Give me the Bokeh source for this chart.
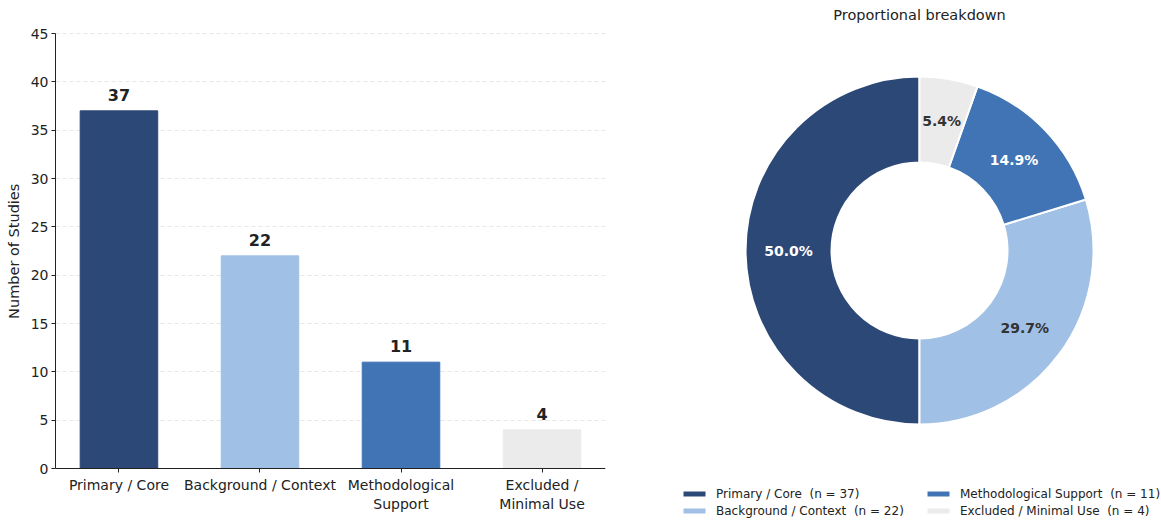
import math
from bokeh.plotting import figure
from bokeh.layouts import row
from bokeh.models import (ColumnDataSource, Range1d, FixedTicker, Legend, LegendItem)
from bokeh.core.properties import value
from bokeh.embed import file_html
from bokeh.resources import INLINE

# ---- data ----
categories = ["Primary / Core", "Background / Context", "Methodological Support", "Excluded / Minimal Use"]
tick_labels = ["Primary / Core", "Background / Context", "Methodological\nSupport", "Excluded /\nMinimal Use"]
counts = [37, 22, 11, 4]
colors = ["#2c4877", "#a0c0e5", "#4174b4", "#ebebeb"]
pct_text_colors = ["#ffffff", "#333333", "#ffffff", "#333333"]
y_ticks = [0, 5, 10, 15, 20, 25, 30, 35, 40, 45]

FONT = "DejaVu Sans"
H = 520

# ---- bar chart ----
# frame covers full height; 45 sits at page y 33 and 0 at page y 468
scale = (468 - 33) / 45.0
y_lo = -(H - 468) / scale
y_hi = 45 + 33 / scale

xs = list(range(len(categories)))
bar_src = ColumnDataSource(dict(x=xs, top=counts, color=colors,
                                label=[str(c) for c in counts]))

p1 = figure(width=640, height=H, output_backend="svg", toolbar_location=None,
            x_range=Range1d(-0.45, 3.45), y_range=Range1d(y_lo, y_hi),
            min_border_left=55, min_border_right=35, min_border_top=0, min_border_bottom=0)
p1.outline_line_color = None
p1.vbar(x="x", top="top", bottom=0, width=0.55, color="color", source=bar_src)
p1.text(x="x", y="top", text="label", source=bar_src, text_align="center",
        text_baseline="bottom", y_offset=-10, text_font=value(FONT),
        text_font_size="16px", text_font_style="bold", text_color="#222222")

p1.xaxis.ticker = FixedTicker(ticks=xs)
p1.xaxis.major_label_overrides = {i: t for i, t in enumerate(tick_labels)}
p1.xaxis.fixed_location = 0
p1.yaxis.ticker = FixedTicker(ticks=y_ticks)
p1.yaxis.bounds = (0, 45)
# leading no-break spaces nudge the centred label up to the middle of the 0-45 span
p1.yaxis.axis_label = "\u00a0\u00a0\u00a0\u00a0Number of Studies"
for ax in (p1.xaxis, p1.yaxis):
    ax.major_label_text_font = FONT
    ax.major_label_text_font_size = "14px"
    ax.major_label_text_color = "#222222"
    ax.axis_label_text_font = FONT
    ax.axis_label_text_font_size = "14.5px"
    ax.axis_label_text_font_style = "normal"
    ax.axis_label_text_color = "#222222"
    ax.major_tick_in = 0
    ax.major_tick_out = 4
    ax.minor_tick_line_color = None
    ax.axis_line_color = "#222222"
    ax.major_tick_line_color = "#222222"
p1.xaxis.major_label_standoff = 4
p1.yaxis.major_label_standoff = 3
p1.yaxis.axis_label_standoff = 6
p1.xgrid.grid_line_color = None
p1.ygrid.grid_line_color = "#dddddd"
p1.ygrid.grid_line_dash = "4 3"
p1.ygrid.grid_line_alpha = 0.7

# ---- donut chart ----
total = sum(counts)
fracs = [c / total for c in counts]
starts, ends, mids = [], [], []
acc = 0.0
for f in fracs:
    s = math.pi / 2 + 2 * math.pi * acc
    e = math.pi / 2 + 2 * math.pi * (acc + f)
    starts.append(s)
    ends.append(e)
    mids.append((s + e) / 2)
    acc += f

cx, cy = 919, 272
r_out, r_in = 174, 88
r_lab = (r_out + r_in) / 2

pie_src = ColumnDataSource(dict(start=starts, end=ends, color=colors))
lab_src = ColumnDataSource(dict(
    x=[cx + r_lab * math.cos(m) for m in mids],
    y=[cy + r_lab * math.sin(m) for m in mids],
    text=["%.1f%%" % (100 * f) for f in fracs],
    color=pct_text_colors))

# frame spans page pixels x 640..1160, y 0..520 ; data y = 522 - page y
p2 = figure(width=520, height=H, output_backend="svg", toolbar_location=None,
            x_range=Range1d(640, 1160), y_range=Range1d(522 - H, 522),
            min_border=0, x_axis_location=None, y_axis_location=None)
p2.outline_line_color = None
p2.grid.grid_line_color = None

wedges = p2.annular_wedge(x=cx, y=cy, inner_radius=r_in, outer_radius=r_out,
                          start_angle="start", end_angle="end", fill_color="color",
                          line_color="white", line_width=2, source=pie_src)
p2.text(x="x", y="y", text="text", text_color="color", source=lab_src,
        text_align="center", text_baseline="middle", text_font=value(FONT),
        text_font_size="14px", text_font_style="bold")
p2.text(x=[cx], y=[508], text=["Proportional breakdown"], text_align="center",
        text_baseline="middle", text_font=value(FONT), text_font_size="14.5px",
        text_color="#222222")

legend_labels = ["%s  (n = %d)" % (cat, n) for cat, n in zip(categories, counts)]

def make_legend(idx, loc):
    lg = Legend(items=[LegendItem(label=legend_labels[i], renderers=[wedges], index=i) for i in idx],
                location=loc, orientation="vertical",
                glyph_width=30, glyph_height=9, label_standoff=7, spacing=0,
                padding=0, margin=0, border_line_color=None, background_fill_alpha=0,
                label_text_font=FONT, label_text_font_size="12px", label_text_color="#222222",
                label_height=17)
    p2.add_layout(lg, "center")
    return lg

make_legend([0, 1], (39, 1))
make_legend([2, 3], (283, 1))

layout = row(p1, p2, spacing=0)
open("out.html", "w").write(file_html(layout, INLINE))
